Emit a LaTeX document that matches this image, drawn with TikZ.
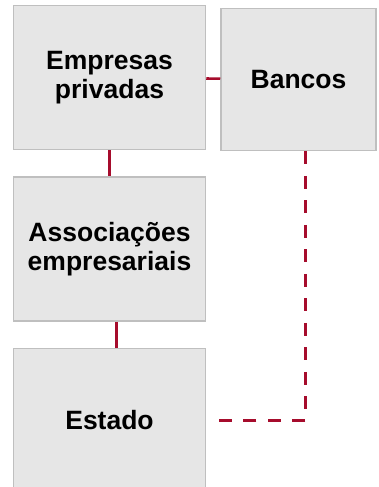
\documentclass[tikz,border=0pt]{standalone}
\usepackage{fontspec}
\setmainfont{Liberation Sans}
\usepackage{tikz}
\usetikzlibrary{positioning}
\definecolor{boxfill}{RGB}{230,230,230}
\definecolor{boxline}{RGB}{191,191,191}
\definecolor{linkred}{RGB}{166,12,44}

\begin{document}
\begin{tikzpicture}[x=1pt,y=-1pt,node distance=26pt,
    actor/.style={rectangle,draw=boxline,fill=boxfill,line width=1.5pt,inner sep=0pt,
      minimum width=192pt,minimum height=144pt,align=center,
      font=\fontsize{26.5}{29}\selectfont\bfseries},
    link/.style={draw=linkred,line width=2.6pt},
    dashlink/.style={link,dash pattern=on 13pt off 11.5pt}]
    \useasboundingbox (0,0) rectangle (378,487);

    \node[actor] (emp) at (109.5,77.5) {Empresas\\privadas};
    \node[actor] (assoc) [below=of emp] {Associações\\empresariais};
    \node[actor] (est) [below=of assoc] {Estado};
    \node[actor,minimum width=155pt,minimum height=142pt] (banc) [right=14pt of emp,yshift=-2pt] {Bancos};

    \path[link]
    (emp) edge (banc)
    (emp) edge (assoc)
    ([xshift=7pt]assoc.south) edge ([xshift=7pt]est.north);

    \draw[dashlink,shorten >=10pt] ([xshift=7pt]banc.south) |- (est.east);
\end{tikzpicture}
\end{document}
